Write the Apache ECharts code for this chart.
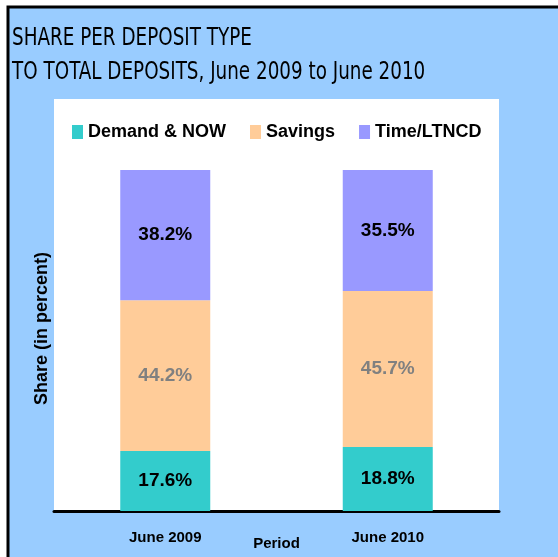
<!DOCTYPE html>
<html><head><meta charset="utf-8">
<script src="https://cdn.jsdelivr.net/npm/echarts@6/dist/echarts.min.js"></script>
<style>html,body{margin:0;padding:0;background:#fff}#c{width:558px;height:557px}</style>
</head><body><div id="c"></div>
<script>
const categories = ['June 2009', 'June 2010'];
const demandNow = [17.6, 18.8];
const savings = [44.2, 45.7];
const timeLtncd = [38.2, 35.5];
const seriesNames = ['Demand & NOW', 'Savings', 'Time/LTNCD'];
const titleLines = ['SHARE PER DEPOSIT TYPE', 'TO TOTAL DEPOSITS, June 2009 to June 2010'];

const SANS = "'Liberation Sans', Arial, sans-serif";
const COND = "'DejaVu Sans Condensed', 'DejaVu Sans', sans-serif";
const colors = ['#33CCCC', '#FFCC99', '#9999FF'];
const labelColors = ['#000000', '#808080', '#000000'];
const dataSets = [demandNow, savings, timeLtncd];

const chart = echarts.init(document.getElementById('c'), null, {renderer: 'canvas'});
chart.setOption({
  backgroundColor: '#ffffff',
  animation: false,
  graphic: [
    {type: 'rect', z: -10, shape: {x: 8, y: 7, width: 560, height: 560},
     style: {fill: '#99CCFF', stroke: '#000000', lineWidth: 3}},
    {type: 'rect', z: -9, shape: {x: 54, y: 99, width: 445, height: 412},
     style: {fill: '#ffffff'}},
    {type: 'text', x: 12, y: 39, scaleX: 0.85, z: 5,
     style: {text: titleLines[0], font: "24px " + COND, fill: '#000', verticalAlign: 'middle'}},
    {type: 'text', x: 12, y: 73, scaleX: 0.85, z: 5,
     style: {text: titleLines[1], font: "24px " + COND, fill: '#000', verticalAlign: 'middle'}}
  ],
  legend: {
    left: 67, top: 118, itemWidth: 11, itemHeight: 14, itemGap: 24, icon: 'rect',
    textStyle: {fontFamily: SANS, fontWeight: 'bold', fontSize: 18, color: '#000'},
    data: seriesNames
  },
  grid: {left: 54, right: 59, top: 170, bottom: 46, outerBoundsMode: 'none', containLabel: false},
  xAxis: {
    type: 'category', data: categories,
    axisLine: {lineStyle: {color: '#000', width: 3}},
    axisTick: {show: false},
    axisLabel: {margin: 19, fontFamily: SANS, fontWeight: 'bold', fontSize: 15, color: '#000'},
    name: 'Period', nameLocation: 'middle', nameGap: 25, nameMoveOverlap: false,
    nameTextStyle: {fontFamily: SANS, fontWeight: 'bold', fontSize: 15, color: '#000'}
  },
  yAxis: {
    type: 'value', min: 0, max: 100,
    axisLine: {show: false}, axisTick: {show: false}, axisLabel: {show: false}, splitLine: {show: false},
    name: 'Share (in percent)', nameLocation: 'middle', nameGap: 3, nameRotate: 90, nameMoveOverlap: false,
    nameTextStyle: {fontFamily: SANS, fontWeight: 'bold', fontSize: 18, color: '#000', padding: [0, 0, 0, 24]}
  },
  series: dataSets.map((d, i) => ({
    name: seriesNames[i], type: 'bar', stack: 'total', data: d, barWidth: 90,
    itemStyle: {color: colors[i]},
    label: {show: true, position: 'inside', formatter: p => p.value.toFixed(1) + '%',
      fontFamily: SANS, fontWeight: 'bold', fontSize: 19, color: labelColors[i]}
  }))
});
</script></body></html>
